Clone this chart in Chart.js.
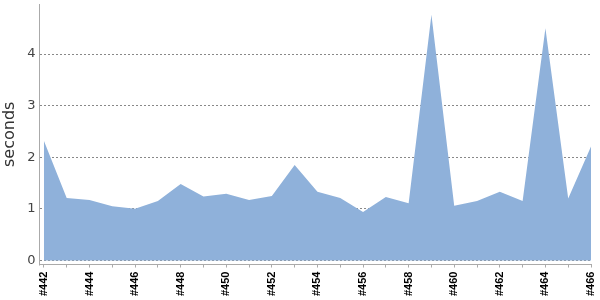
<!DOCTYPE html>
<html>
<head>
<meta charset="utf-8">
<script src="https://cdn.jsdelivr.net/npm/chart.js@4"></script>
<style>
  html, body { margin: 0; padding: 0; background: #fff; }
  #wrap { width: 600px; height: 300px; position: relative; }
</style>
</head>
<body>
<div id="wrap"><canvas id="myChart"></canvas></div>
<script>
// build numbers and durations
const builds = ["#442", "#443", "#444", "#445", "#446", "#447", "#448", "#449", "#450", "#451", "#452", "#453", "#454",
                "#455", "#456", "#457", "#458", "#459", "#460", "#461", "#462", "#463", "#464", "#465", "#466"];
const durations = [2.32, 1.21, 1.17, 1.05, 1.0, 1.15, 1.48, 1.24, 1.29, 1.17, 1.25, 1.85, 1.33,
                   1.21, 0.94, 1.23, 1.11, 4.76, 1.06, 1.15, 1.33, 1.15, 4.5, 1.2, 2.21];
const yTicks = [0, 1, 2, 3, 4];

// solid y axis line (border.dash would make it dashed like the grid)
const yAxisLine = {
    id: 'yAxisLine',
    afterDraw(chart) {
        const c = chart.ctx, a = chart.chartArea;
        c.save();
        c.strokeStyle = '#aaa';
        c.lineWidth = 1;
        c.beginPath();
        c.moveTo(Math.round(a.left) - 0.5, a.top);
        c.lineTo(Math.round(a.left) - 0.5, a.bottom + 1);
        c.stroke();
        c.restore();
    }
};

document.addEventListener('DOMContentLoaded', function() {
    const ctx = document.getElementById('myChart').getContext('2d');
    const points = durations.map((v, i) => ({ x: i, y: v }));

    new Chart(ctx, {
        type: 'line',
        data: {
            datasets: [{
                data: points,
                fill: 'origin',
                backgroundColor: '#8fb1da',
                borderWidth: 0,
                pointRadius: 0,
                tension: 0
            }]
        },
        options: {
            responsive: true,
            maintainAspectRatio: false,
            animation: false,
            layout: { padding: { top: 4, right: 9, left: 0, bottom: 0 } },
            plugins: { legend: { display: false }, tooltip: { enabled: false } },
            scales: {
                x: {
                    type: 'linear',
                    min: -0.15,
                    max: builds.length - 1,
                    afterBuildTicks: (axis) => { axis.ticks = builds.map((b, i) => ({ value: i })); },
                    afterFit: (axis) => { axis.paddingRight = 0; },
                    grid: { drawOnChartArea: false, tickLength: 3, color: '#aaa' },
                    border: { color: '#aaa' },
                    ticks: {
                        autoSkip: false,
                        maxRotation: 90,
                        minRotation: 90,
                        padding: 4,
                        color: '#000',
                        font: { family: 'Liberation Sans', size: 11, weight: 'bold' },
                        callback: (v) => (v % 2 === 0 ? builds[v] : '')
                    }
                },
                y: {
                    min: -0.08,
                    max: 4.97,
                    afterBuildTicks: (axis) => { axis.ticks = yTicks.map(v => ({ value: v })); },
                    afterFit: (axis) => { axis.paddingTop = 0; },
                    grid: { color: '#888', drawTicks: false },
                    border: { display: false, dash: [2, 2] },
                    ticks: {
                        padding: 5,
                        color: '#444',
                        font: { family: 'DejaVu Sans', size: 13 }
                    },
                    title: {
                        display: true,
                        text: 'seconds',
                        color: '#333',
                        padding: { top: 0, bottom: 3 },
                        font: { family: 'DejaVu Sans', size: 16 }
                    }
                }
            }
        },
        plugins: [yAxisLine]
    });
});
</script>
</body>
</html>
